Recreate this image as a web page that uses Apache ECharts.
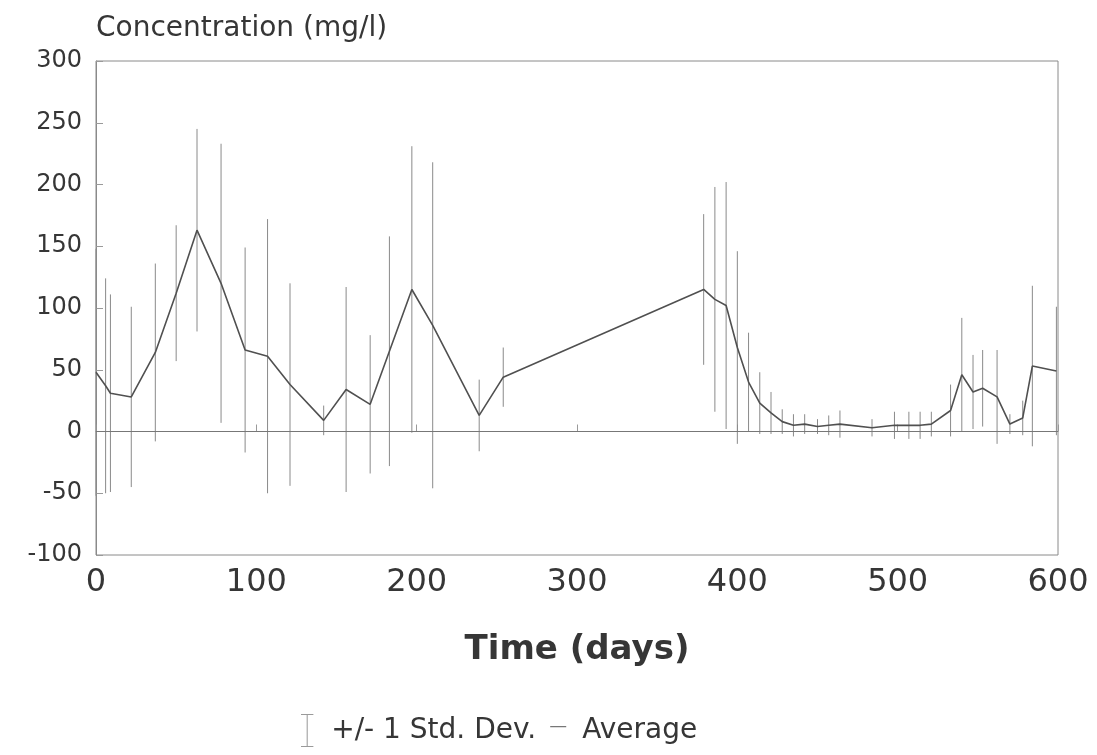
<!DOCTYPE html>
<html>
<head>
<meta charset="utf-8">
<script src="https://cdn.jsdelivr.net/npm/echarts@6/dist/echarts.min.js"></script>
<style>
  html, body { margin: 0; padding: 0; background: #ffffff; }
  #chart { width: 1097px; height: 755px; }
</style>
</head>
<body>
<div id="chart"></div>
<script>
// Time of sampling (days)
const days = [0, 6, 9, 22, 37, 50, 63, 78, 93, 107, 121, 142, 156, 171, 183, 197, 210, 239, 254,
  379, 386, 393, 400, 407, 414, 421, 428, 435, 442, 450, 457, 464, 484, 498, 507, 514, 521,
  533, 540, 547, 553, 562, 570, 578, 584, 599];
// Average concentration (mg/l)
const average = [48, 37, 31, 28, 64, 112, 163, 120, 66, 61, 38, 9, 34, 22, 65, 115, 86, 13, 44,
  115, 107, 102, 68, 40, 23, 15, 8, 5, 6, 4, 5, 6, 3, 5, 5, 5, 6,
  17, 46, 32, 35, 28, 6, 11, 53, 49];
// Standard deviation (mg/l)
const stdDev = [100, 87, 80, 73, 72, 55, 82, 113, 83, 111, 82, 12, 83, 56, 93, 116, 132, 29, 24,
  61, 91, 100, 78, 40, 25, 17, 10, 9, 8, 6, 8, 11, 7, 11, 11, 11, 10,
  21, 46, 30, 31, 38, 8, 14, 65, 52];

const yTicks = [-100, -50, 0, 50, 100, 150, 200, 250, 300];
const xTicks = [0, 100, 200, 300, 400, 500, 600];

const FONT = '"DejaVu Sans", Verdana, sans-serif';
const TEXT = '#363636';

const avgData = days.map((d, i) => [d, average[i]]);
const errData = days.map((d, i) => [d, average[i] - stdDev[i], average[i] + stdDev[i]]);

const chart = echarts.init(document.getElementById('chart'), null, { renderer: 'canvas' });
chart.setOption({
  animation: false,
  backgroundColor: '#ffffff',
  grid: {
    left: 96, right: 39, top: 61, bottom: 200,
    show: true, borderColor: '#8a8a8a', borderWidth: 1, backgroundColor: 'transparent'
  },
  xAxis: {
    type: 'value',
    min: xTicks[0], max: xTicks[xTicks.length - 1], interval: 100,
    name: 'Time (days)',
    nameLocation: 'middle',
    nameGap: 78,
    nameTextStyle: { fontFamily: FONT, fontSize: 34, fontWeight: 'bold', color: TEXT },
    axisLine: { show: true, lineStyle: { color: '#8a8a8a', width: 1 } },
    axisTick: { show: true, inside: true, length: 7, lineStyle: { color: '#9a9a9a' } },
    axisLabel: { fontFamily: FONT, fontSize: 32, color: TEXT, margin: 12 },
    splitLine: { show: false }
  },
  yAxis: {
    type: 'value',
    min: yTicks[0], max: yTicks[yTicks.length - 1], interval: 50,
    name: 'Concentration (mg/l)',
    nameLocation: 'end',
    nameGap: 18,
    nameTextStyle: { fontFamily: FONT, fontSize: 28, color: TEXT, align: 'left' },
    axisLine: { show: true, lineStyle: { color: '#8a8a8a', width: 1 } },
    axisTick: { show: true, inside: true, length: 7, lineStyle: { color: '#9a9a9a' } },
    axisLabel: { fontFamily: FONT, fontSize: 24, color: TEXT, margin: 14 },
    splitLine: { show: false }
  },
  legend: {
    top: 709,
    left: 296,
    itemWidth: 16,
    itemHeight: 33,
    itemGap: 14,
    textStyle: { fontFamily: FONT, fontSize: 28, color: TEXT, padding: [8, 0, 0, 11] },
    data: [
      {
        name: '+/- 1 Std. Dev.',
        icon: 'path://M0,0 H12 V1 H6.5 V31 H12 V32 H0 V31 H5.5 V1 H0 Z',
        itemStyle: { color: '#9a9a9a' }
      },
      {
        name: 'Average',
        icon: 'path://M0,0 L0.01,0 Z M0,11 H18 V12.4 H0 Z M0,32 L0.01,32 Z',
        itemStyle: { color: '#777777' }
      }
    ]
  },
  series: [
    {
      name: '+/- 1 Std. Dev.',
      type: 'custom',
      data: errData,
      encode: { x: 0, y: [1, 2] },
      itemStyle: { color: '#9a9a9a' },
      renderItem: function (params, api) {
        const x = api.value(0);
        const lo = api.coord([x, api.value(1)]);
        const hi = api.coord([x, api.value(2)]);
        return {
          type: 'line',
          shape: { x1: lo[0], y1: lo[1], x2: hi[0], y2: hi[1] },
          style: { stroke: '#8a8a8a', lineWidth: 1 }
        };
      },
      z: 2
    },
    {
      name: 'Average',
      type: 'line',
      data: avgData,
      showSymbol: false,
      symbol: 'none',
      lineStyle: { color: '#505050', width: 1.6 },
      itemStyle: { color: '#505050' },
      z: 3,
      markLine: {
        silent: true,
        symbol: ['none', 'none'],
        label: { show: false },
        lineStyle: { color: '#777777', width: 1, type: 'solid' },
        data: [{ yAxis: 0 }]
      }
    }
  ]
});
</script>
</body>
</html>
